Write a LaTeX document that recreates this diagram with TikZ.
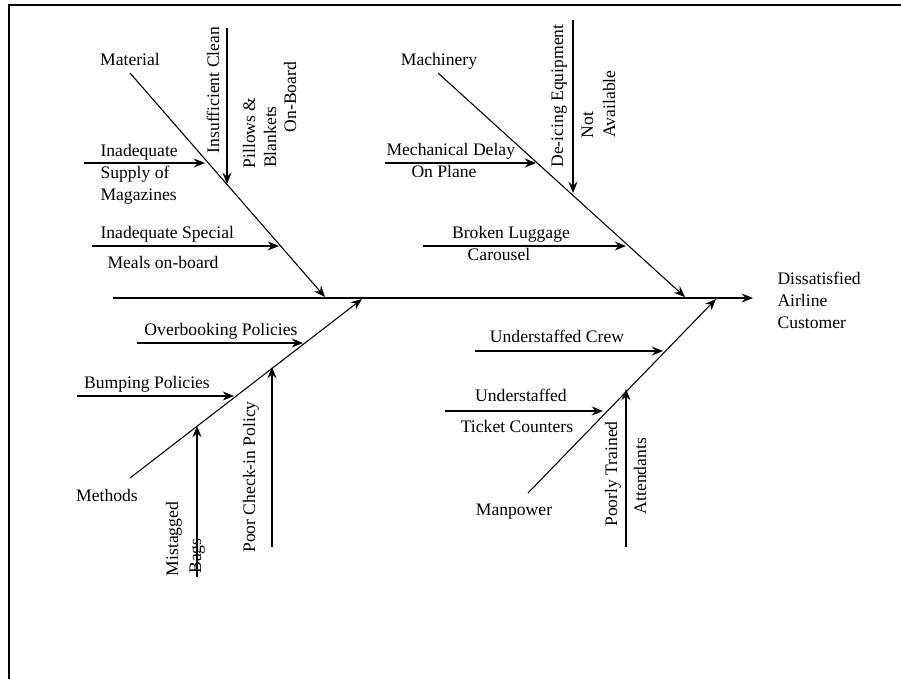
\documentclass[tikz,border=0pt]{standalone}
\usepackage{fontspec}
\setmainfont{Liberation Serif}
\usetikzlibrary{arrows.meta}

\begin{document}
\begin{tikzpicture}[x=0.75pt,y=-0.75pt,line width=0.8pt,
    >={Stealth[length=8.5pt,width=6.8pt,inset=3pt]},
    lbl/.style={inner sep=0pt,font=\fontsize{13.2}{16.5}\selectfont,text height=0.69em,text depth=0.22em},
    lblblock/.style={inner sep=0pt,font=\fontsize{13.2}{16.5}\selectfont,align=left},
    vlbl/.style={lbl,rotate=90}]
    \useasboundingbox (0,0) rectangle (901,679);
    \begin{scope}
    \clip (0,0) rectangle (901,679);
    \draw[line width=2pt] (9,700) -- (9,5) -- (920,5);
    \end{scope}

    % spine and effect
    \coordinate (tail) at (113,298);
    \coordinate (head) at (753,298);
    \draw[->] (tail) -- (head);
    \node[lblblock,anchor=west] (effect) at (777,300) {Dissatisfied\\Airline\\Customer};

    % material
    \node[lbl] (material) at (130,62) {Material};
    \coordinate (mat0) at (130,73);
    \coordinate (mat1) at (325,297);
    \draw[->] (mat0) -- (mat1);
    \coordinate (clean0) at (227,28);
    \coordinate (clean1) at (227,184);
    \draw[->] (clean0) -- (clean1);
    \node[vlbl] (clean) at (216,90) {Insufficient Clean};
    \node[vlbl] (pillows) at (252,133) {Pillows \&};
    \node[vlbl] (blankets) at (273,137) {Blankets};
    \node[vlbl] (onboard) at (293,97) {On-Board};
    \coordinate (mag0) at (84,163);
    \coordinate (mag1) at (205,163);
    \draw[->] (mag0) -- (mag1);
    \node[lblblock,anchor=west] (mag) at (100,174) {Inadequate\\Supply of\\Magazines};
    \coordinate (meal0) at (92,246);
    \coordinate (meal1) at (279,246);
    \draw[->] (meal0) -- (meal1);
    \node[lbl,anchor=west] (meal) at (100,235) {Inadequate Special};
    \node[lbl,anchor=west] (mealb) at (107,265) {Meals on-board};

    % machinery
    \node[lbl] (machinery) at (439,62) {Machinery};
    \coordinate (mach0) at (438,73);
    \coordinate (mach1) at (685,297);
    \draw[->] (mach0) -- (mach1);
    \coordinate (deice0) at (573,20);
    \coordinate (deice1) at (573,193);
    \draw[->] (deice0) -- (deice1);
    \node[vlbl] (deice) at (560,96) {De-icing Equipment};
    \node[vlbl] (deiceb) at (590,125) {Not};
    \node[vlbl] (deicec) at (612,104) {Available};
    \coordinate (delay0) at (385,163);
    \coordinate (delay1) at (536,163);
    \draw[->] (delay0) -- (delay1);
    \node[lbl,anchor=west] (delay) at (386,152) {Mechanical Delay};
    \node[lbl,anchor=west] (delayb) at (411,174) {On Plane};
    \coordinate (lug0) at (423,246);
    \coordinate (lug1) at (626,246);
    \draw[->] (lug0) -- (lug1);
    \node[lbl] (lug) at (511,235) {Broken Luggage};
    \node[lbl] (lugb) at (499,257) {Carousel};

    % methods
    \node[lbl] (methods) at (107,498) {Methods};
    \coordinate (meth0) at (130,478);
    \coordinate (meth1) at (362,299);
    \draw[->] (meth0) -- (meth1);
    \coordinate (over0) at (137,343);
    \coordinate (over1) at (303,343);
    \draw[->] (over0) -- (over1);
    \node[lbl] (over) at (221,332) {Overbooking Policies};
    \coordinate (bump0) at (77,396);
    \coordinate (bump1) at (234,396);
    \draw[->] (bump0) -- (bump1);
    \node[lbl] (bump) at (147,385) {Bumping Policies};
    \coordinate (tag0) at (197,577);
    \coordinate (tag1) at (197,426);
    \draw[->] (tag0) -- (tag1);
    \node[vlbl] (tag) at (175,539) {Mistagged};
    \node[vlbl] (tagb) at (198,556) {Bags};
    \coordinate (check0) at (272,547);
    \coordinate (check1) at (272,367);
    \draw[->] (check0) -- (check1);
    \node[vlbl] (check) at (252,477) {Poor Check-in Policy};

    % manpower
    \node[lbl] (manpower) at (514,512) {Manpower};
    \coordinate (man0) at (528,493);
    \coordinate (man1) at (716,299);
    \draw[->] (man0) -- (man1);
    \coordinate (crew0) at (475,351);
    \coordinate (crew1) at (663,351);
    \draw[->] (crew0) -- (crew1);
    \node[lbl] (crew) at (557,339) {Understaffed Crew};
    \coordinate (tick0) at (445,411);
    \coordinate (tick1) at (603,411);
    \draw[->] (tick0) -- (tick1);
    \node[lbl] (tick) at (521,398) {Understaffed};
    \node[lbl] (tickb) at (517,429) {Ticket Counters};
    \coordinate (train0) at (626,547);
    \coordinate (train1) at (626,389);
    \draw[->] (train0) -- (train1);
    \node[vlbl] (train) at (614,474) {Poorly Trained};
    \node[vlbl] (trainb) at (643,476) {Attendants};
\end{tikzpicture}
\end{document}
